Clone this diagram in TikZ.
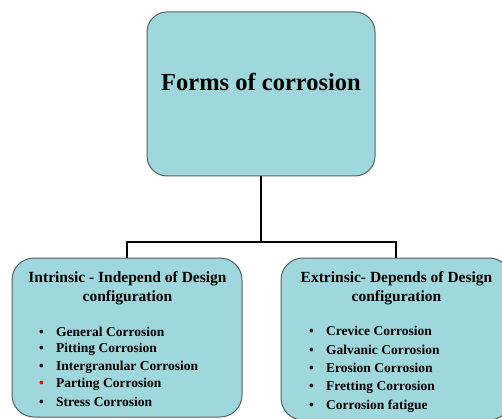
\documentclass[tikz,border=0pt]{standalone}
\usepackage{fontspec}
\setmainfont{Liberation Serif}
\definecolor{boxfill}{RGB}{158,216,220}
\definecolor{boxline}{RGB}{85,95,100}
\newcommand{\blt}[1][black]{\makebox[17pt][l]{\textcolor{#1}{\textbullet}}}
\tikzset{
  formbox/.style={rectangle, rounded corners=20pt, draw=boxline, line width=1pt,
    fill=boxfill, inner sep=0pt},
  headtext/.style={font=\bfseries\fontsize{15.5}{19}\selectfont, align=center},
  itemtext/.style={font=\bfseries\fontsize{13.5}{16}\selectfont, anchor=west, inner sep=0pt},
  link/.style={line width=1.5pt, black}
}
\begin{document}
\begin{tikzpicture}[x=1pt, y=-1pt]
    \useasboundingbox (0,0) rectangle (502,419);
    \clip (0,0) rectangle (502,419);

    % Boîte principale
    \node[formbox, minimum width=228pt, minimum height=164pt] (forms) at (261,94) {};
    \node[font=\bfseries\fontsize{24.5}{29}\selectfont] (formstitle) at (261,82) {Forms of corrosion};

    % Les deux familles
    \node[formbox, rounded corners=22pt, minimum width=230pt, minimum height=159pt] (intr) at (127,337.5) {};
    \node[formbox, rounded corners=22pt, minimum width=230pt, minimum height=162pt] (extr) at (396,339) {};
    \node[headtext] (intrtitle) at (127.5,288) {Intrinsic - Independ of Design\\configuration};
    \node[headtext] (extrtitle) at (396.5,288) {Extrinsic- Depends of Design\\configuration};

    % Liaisons
    \coordinate (split) at (261,242);
    \draw[link] (forms.south) -- (split);
    \draw[link] (split) -| (intr.north);
    \draw[link] (split) -| (extr.north);

    % Formes intrinsèques
    \node[itemtext] (i1) at (39,332) {\blt General Corrosion};
    \node[itemtext] (i2) at (39,349.5) {\blt Pitting Corrosion};
    \node[itemtext] (i3) at (39,367) {\blt Intergranular Corrosion};
    \node[itemtext] (i4) at (39,384.5) {\blt[red]Parting Corrosion};
    \node[itemtext] (i5) at (39,402) {\blt Stress Corrosion};

    % Formes extrinsèques
    \node[itemtext] (e1) at (309,331) {\blt Crevice Corrosion};
    \node[itemtext] (e2) at (309,349.5) {\blt Galvanic Corrosion};
    \node[itemtext] (e3) at (309,368) {\blt Erosion Corrosion};
    \node[itemtext] (e4) at (309,387) {\blt Fretting Corrosion};
    \node[itemtext] (e5) at (309,406) {\blt Corrosion fatigue};
\end{tikzpicture}
\end{document}
